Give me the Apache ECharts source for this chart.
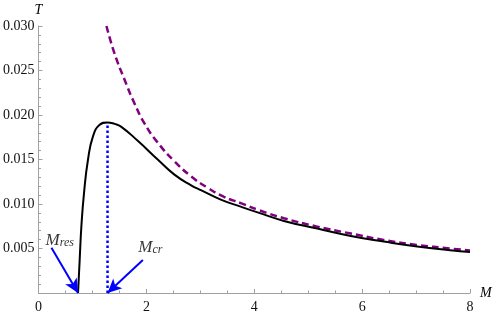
<!DOCTYPE html>
<html>
<head>
<meta charset="utf-8">
<script src="https://cdn.jsdelivr.net/npm/echarts@6/dist/echarts.min.js"></script>
<style>
html,body{margin:0;padding:0;background:#fff;}
#c{width:498px;height:318px;}
</style>
</head>
<body>
<div id="c"></div>
<script>
// Black curve: T(M)
const blackM = [0.733, 0.764, 0.795, 0.845, 0.918, 1.01, 1.134, 1.275, 1.41, 1.53, 1.84, 2.21, 2.52, 2.83, 3.01, 3.38, 3.75, 4.09, 4.55, 5.17, 5.79, 6.40, 7.02, 7.63, 8.0];
const blackT = [0.0, 0.0038, 0.0075, 0.0113, 0.0150, 0.0176, 0.0189, 0.01916, 0.0190, 0.0187, 0.0171, 0.0150, 0.0133, 0.0121, 0.01156, 0.0105, 0.0097, 0.0090, 0.0081, 0.00724, 0.00641, 0.00578, 0.00522, 0.00481, 0.00462];
// Purple dashed curve
const hawkM = [1.26, 1.41, 1.60, 1.78, 1.97, 2.21, 2.52, 2.83, 3.14, 3.44, 3.75, 4.09, 4.55, 5.17, 5.79, 6.40, 7.02, 7.63, 8.0];
const hawkT = [0.0300, 0.0269, 0.0239, 0.0213, 0.0190, 0.0169, 0.0148, 0.0131, 0.0118, 0.0108, 0.0101, 0.0093, 0.0084, 0.00746, 0.00668, 0.00596, 0.0054, 0.0050, 0.00478];
// Critical / residual masses
const mCr = 1.28, tCr = 0.01916;
const mRes = 0.733;
// Annotation anchors (data coords)
const resLabelAt = [0.394, 0.00595], resArrowFrom = [0.24, 0.00508];
const crLabelAt = [2.074, 0.0051], crArrowFrom = [1.935, 0.0037];
// Axis ticks
const xMin = 0, xMax = 8, xStep = 2;
const yMin = 0, yMax = 0.030, yStep = 0.005;

const zip = (a, b) => a.map((v, i) => [v, b[i]]);
const serif = 'Liberation Serif';
const chart = echarts.init(document.getElementById('c'));
const richM = {
  m: {fontFamily: serif, fontStyle: 'italic', fontSize: 17, color: '#000'},
  s: {fontFamily: serif, fontStyle: 'italic', fontSize: 12, color: '#000', padding: [5, 0, 0, 0]}
};
chart.setOption({
  animation: false,
  grid: {left: 37, right: 28, top: 26, bottom: 25},
  xAxis: {
    type: 'value', min: xMin, max: xMax, interval: xStep,
    name: 'M', nameLocation: 'end', nameGap: 10,
    nameTextStyle: {fontFamily: serif, fontStyle: 'italic', fontSize: 14, color: '#000', verticalAlign: 'middle', padding: [0, 0, 0, 0]},
    axisLine: {lineStyle: {color: '#a0a0a0', width: 1}},
    axisTick: {inside: true, length: 4, lineStyle: {color: '#a0a0a0'}},
    minorTick: {show: true, splitNumber: 4, length: 2.5, lineStyle: {color: '#a0a0a0'}},
    axisLabel: {fontFamily: serif, fontSize: 14, color: '#111', margin: 7},
    splitLine: {show: false}
  },
  yAxis: {
    type: 'value', min: yMin, max: yMax, interval: yStep,
    name: 'T', nameLocation: 'end', nameGap: 9,
    nameTextStyle: {fontFamily: serif, fontStyle: 'italic', fontSize: 14, color: '#000', align: 'center'},
    axisLine: {show: true, lineStyle: {color: '#a0a0a0', width: 1}},
    axisTick: {show: true, inside: true, length: 4, lineStyle: {color: '#a0a0a0'}},
    minorTick: {show: true, splitNumber: 5, length: 2.5, lineStyle: {color: '#a0a0a0'}},
    axisLabel: {fontFamily: serif, fontSize: 14, color: '#111', margin: 4,
      formatter: v => v === 0 ? '' : v.toFixed(3)},
    splitLine: {show: false}
  },
  series: [
    {
      type: 'line', data: zip(hawkM, hawkT), showSymbol: false, smooth: 0.5,
      lineStyle: {color: '#800080', width: 2.5, type: [7, 4]}, z: 3
    },
    {
      type: 'line', data: [[mCr, 0], [mCr, tCr]], showSymbol: false,
      lineStyle: {color: '#0000ff', width: 2.5, type: [2.5, 2.5]}, z: 2,
      markLine: {
        silent: true, symbol: ['none', 'arrow'], symbolSize: [10, 14],
        lineStyle: {color: '#0000ff', width: 2, type: 'solid'},
        label: {show: false},
        data: [
          [{coord: resArrowFrom}, {coord: [mRes, 0]}],
          [{coord: crArrowFrom}, {coord: [mCr, 0]}]
        ]
      }
    },
    {
      type: 'line', data: zip(blackM, blackT), showSymbol: false, smooth: 0.5,
      lineStyle: {color: '#000', width: 2}, z: 4
    },
    {
      type: 'scatter', symbolSize: 1, itemStyle: {color: 'rgba(0,0,0,0)'},
      data: [
        {value: resLabelAt, label: {formatter: '{m|M}{s|res}'}},
        {value: crLabelAt, label: {formatter: '{m|M}{s|cr}'}}
      ],
      label: {show: true, position: 'inside', rich: richM}, z: 5
    }
  ]
});
</script>
</body>
</html>
